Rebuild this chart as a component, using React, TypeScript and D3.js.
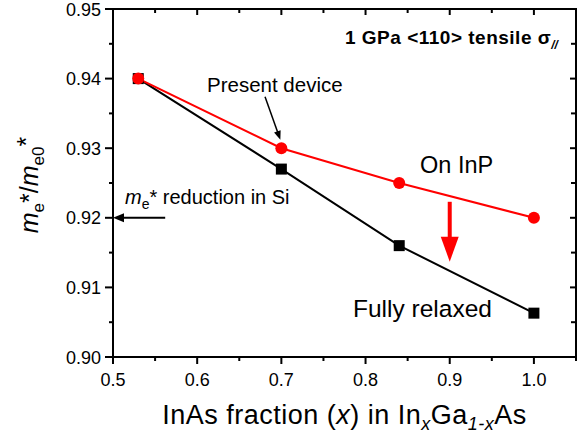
import React from "react";
import * as d3 from "d3";

const xFrac = [0.53, 0.7, 0.84, 1.0];
const onInP = [0.94, 0.93, 0.925, 0.92];
const relaxed = [0.94, 0.927, 0.916, 0.9063];

const xMajorTicks = [0.5, 0.6, 0.7, 0.8, 0.9, 1.0];
const xMinorTicks = [0.55, 0.65, 0.75, 0.85, 0.95, 1.05];
const yMajorTicks = [0.9, 0.91, 0.92, 0.93, 0.94, 0.95];
const yMinorTicks = [0.905, 0.915, 0.925, 0.935, 0.945];

// annotation arrows: [x1, y1, x2, y2] in data units
const siArrow = [0.562, 0.92, 0.5, 0.92];
const deviceArrow = [0.6806, 0.9374, 0.6988, 0.9312];
const reductionArrow = [0.9, 0.9223, 0.9, 0.9137];

const W = 580;
const H = 438;
const left = 113;
const right = 576;
const top = 9;
const bottom = 357;

const FONT = "'Liberation Sans', Arial, Helvetica, sans-serif";

export default function App() {
  const x = d3.scaleLinear().domain([0.5, 1.05]).range([left, right]);
  const y = d3.scaleLinear().domain([0.9, 0.95]).range([bottom, top]);

  const line = d3
    .line<number>()
    .x((_, i) => x(xFrac[i]))
    .y((d) => y(d));

  const arrowHead = (
    x1: number,
    y1: number,
    x2: number,
    y2: number,
    len: number,
    halfW: number
  ) => {
    const dx = x2 - x1;
    const dy = y2 - y1;
    const L = Math.sqrt(dx * dx + dy * dy);
    const ux = dx / L;
    const uy = dy / L;
    const bx = x2 - ux * len;
    const by = y2 - uy * len;
    const px = -uy;
    const py = ux;
    return `M${x2},${y2}L${bx + px * halfW},${by + py * halfW}L${bx - px * halfW},${by - py * halfW}Z`;
  };

  const renderArrow = (
    a: number[],
    color: string,
    sw: number,
    len: number,
    halfW: number
  ) => {
    const x1 = x(a[0]);
    const y1 = y(a[1]);
    const x2 = x(a[2]);
    const y2 = y(a[3]);
    const dx = x2 - x1;
    const dy = y2 - y1;
    const L = Math.sqrt(dx * dx + dy * dy);
    const ex = x2 - (dx / L) * (len - 1);
    const ey = y2 - (dy / L) * (len - 1);
    return (
      <g>
        <line x1={x1} y1={y1} x2={ex} y2={ey} stroke={color} strokeWidth={sw} />
        <path d={arrowHead(x1, y1, x2, y2, len, halfW)} fill={color} />
      </g>
    );
  };

  return (
    <svg
      width={W}
      height={H}
      style={{ position: "fixed", left: 0, top: 0, background: "#fff" }}
      fontFamily={FONT}
    >
      <rect x={0} y={0} width={W} height={H} fill="#fff" />

      {/* lines */}
      <path d={line(relaxed) || ""} fill="none" stroke="#000" strokeWidth={2} />
      <path d={line(onInP) || ""} fill="none" stroke="#ff0000" strokeWidth={2} />

      {/* markers */}
      {relaxed.map((v, i) => (
        <rect
          key={"s" + i}
          x={x(xFrac[i]) - 5.5}
          y={y(v) - 5.5}
          width={11}
          height={11}
          fill="#000"
        />
      ))}
      {onInP.map((v, i) => (
        <circle key={"c" + i} cx={x(xFrac[i])} cy={y(v)} r={6} fill="#ff0000" />
      ))}

      {/* arrows */}
      {renderArrow(siArrow, "#000", 2, 11, 4.5)}
      {renderArrow(deviceArrow, "#000", 1.5, 9, 3.5)}
      {renderArrow(reductionArrow, "#ff0000", 4, 25, 9)}

      {/* frame */}
      <rect
        x={left}
        y={top}
        width={right - left}
        height={bottom - top}
        fill="none"
        stroke="#000"
        strokeWidth={2}
      />

      {/* x ticks */}
      {xMajorTicks.map((t) => (
        <g key={"xM" + t}>
          <line x1={x(t)} x2={x(t)} y1={bottom} y2={bottom + 7} stroke="#000" strokeWidth={2} />
          <line x1={x(t)} x2={x(t)} y1={top} y2={top + 6} stroke="#000" strokeWidth={2} />
          <text
            x={x(t)}
            y={386}
            textAnchor="middle"
            fontSize={18}
            fill="#000"
          >
            {t.toFixed(1)}
          </text>
        </g>
      ))}
      {xMinorTicks.map((t) => (
        <g key={"xm" + t}>
          <line x1={x(t)} x2={x(t)} y1={bottom} y2={bottom + 4} stroke="#000" strokeWidth={2} />
          <line x1={x(t)} x2={x(t)} y1={top} y2={top + 4} stroke="#000" strokeWidth={2} />
        </g>
      ))}

      {/* y ticks */}
      {yMajorTicks.map((t) => (
        <g key={"yM" + t}>
          <line x1={left - 8} x2={left} y1={y(t)} y2={y(t)} stroke="#000" strokeWidth={2} />
          <line x1={right - 6} x2={right} y1={y(t)} y2={y(t)} stroke="#000" strokeWidth={2} />
          <text
            x={101}
            y={y(t) + 6.5}
            textAnchor="end"
            fontSize={18}
            fill="#000"
          >
            {t.toFixed(2)}
          </text>
        </g>
      ))}
      {yMinorTicks.map((t) => (
        <g key={"ym" + t}>
          <line x1={left - 4} x2={left} y1={y(t)} y2={y(t)} stroke="#000" strokeWidth={2} />
          <line x1={right - 5} x2={right} y1={y(t)} y2={y(t)} stroke="#000" strokeWidth={2} />
        </g>
      ))}

      {/* x axis label */}
      <text
        x={(left + right) / 2}
        y={424}
        textAnchor="middle"
        fontSize={27}
        letterSpacing={0.5}
        fill="#000"
      >
        <tspan>InAs fraction (</tspan>
        <tspan fontStyle="italic">x</tspan>
        <tspan>) in In</tspan>
        <tspan fontStyle="italic" fontSize={18} dy={6}>x</tspan>
        <tspan dy={-6}>Ga</tspan>
        <tspan fontStyle="italic" fontSize={18} dy={6}>1-x</tspan>
        <tspan dy={-6}>As</tspan>
      </text>

      {/* y axis label */}
      <text
        transform={`translate(38,${185}) rotate(-90)`}
        textAnchor="middle"
        fontSize={25}
        fill="#000"
      >
        <tspan fontStyle="italic">m</tspan>
        <tspan fontSize={17} dy={6}>e</tspan>
        <tspan dy={-6}>*/</tspan>
        <tspan fontStyle="italic">m</tspan>
        <tspan fontSize={17} dy={6}>e0</tspan>
        <tspan dy={-9}>*</tspan>
      </text>

      {/* title */}
      <text x={345} y={44} fontSize={19} fontWeight="bold" fill="#000" letterSpacing={0.5}>
        <tspan>1 GPa &lt;110&gt; tensile σ</tspan>
        <tspan fontSize={12} fontStyle="italic" dy={5} letterSpacing={0}>//</tspan>
      </text>

      {/* annotations */}
      <text x={207} y={92} fontSize={20.5} fill="#000">Present device</text>
      <text x={420} y={173} fontSize={23.5} fill="#000">On InP</text>
      <text x={353} y={317} fontSize={24.5} fill="#000">Fully relaxed</text>
      <text x={125} y={204} fontSize={20} fill="#000">
        <tspan fontStyle="italic">m</tspan>
        <tspan fontSize={14} dy={5}>e</tspan>
        <tspan dy={-5}>* reduction in Si</tspan>
      </text>
    </svg>
  );
}
